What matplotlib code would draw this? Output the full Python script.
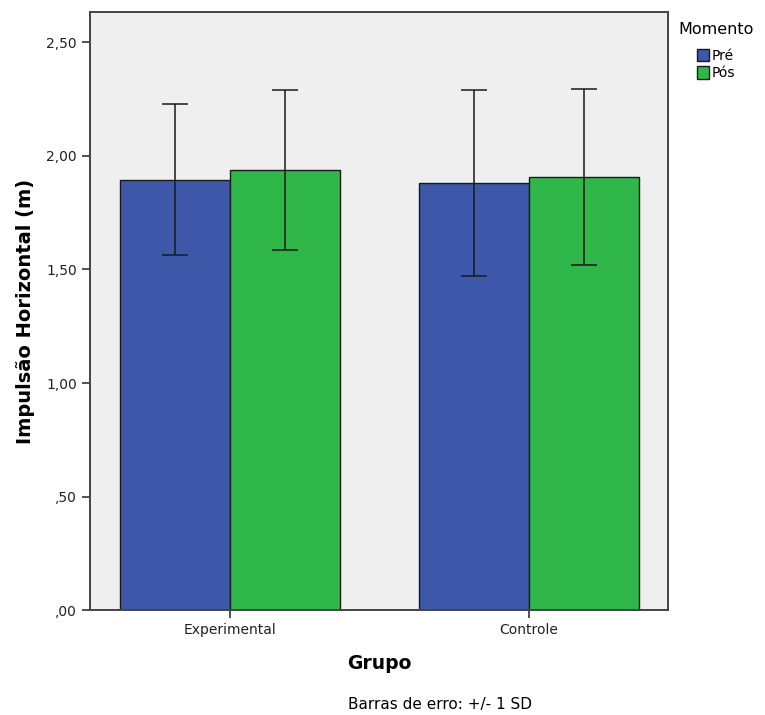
import numpy as np
import matplotlib
matplotlib.use("Agg")
import matplotlib.pyplot as plt
from matplotlib.ticker import FuncFormatter
from matplotlib.patches import Patch

# data
grupos = ["Experimental", "Controle"]
momentos = ["Pré", "Pós"]
medias_pre = [1.894, 1.879]
medias_pos = [1.937, 1.906]
sd_pre = [0.332, 0.410]
sd_pos = [0.352, 0.387]
y_ticks = [0.0, 0.5, 1.0, 1.5, 2.0, 2.5]

cor_pre = "#3d58a8"
cor_pos = "#2fb849"

plt.rcParams['font.family'] = ['DejaVu Sans']

fig = plt.figure(figsize=(7.65, 7.15), dpi=100)
ax = fig.add_axes([90 / 765, 1 - 610.3 / 715, (668 - 90) / 765, (610.3 - 12) / 715])
ax.set_facecolor("#efefef")

x = np.arange(len(grupos))
w = 0.368
err_kw = dict(ecolor="#1a1a1a", elinewidth=1.1, capsize=9.7, capthick=1.1)
ax.bar(x - w / 2, medias_pre, w, yerr=sd_pre, color=cor_pre, edgecolor="#1a1a1a",
       linewidth=1.0, error_kw=err_kw, zorder=2)
ax.bar(x + w / 2, medias_pos, w, yerr=sd_pos, color=cor_pos, edgecolor="#1a1a1a",
       linewidth=1.0, error_kw=err_kw, zorder=2)

ax.set_xlim(-0.469, 1.466)
ax.set_ylim(0, 2.633)
ax.set_yticks(y_ticks)

def fmt(v, pos):
    s = f"{v:.2f}".replace(".", ",")
    if s.startswith("0"):
        s = s[1:]
    return s

ax.yaxis.set_major_formatter(FuncFormatter(fmt))
ax.set_xticks(x)
ax.set_xticklabels(grupos)
ax.tick_params(axis="both", labelsize=10, length=6, width=1.2, color="#333333",
               labelcolor="#222222")
for s in ax.spines.values():
    s.set_color("#444444")
    s.set_linewidth(1.4)

ax.set_ylabel("Impulsão Horizontal (m)", fontsize=14, fontweight="bold", labelpad=8)
ax.set_xlabel("Grupo", fontsize=13.5, fontweight="bold", labelpad=12)

fig.text(440 / 765, 1 - 705 / 715, "Barras de erro: +/- 1 SD", fontsize=11,
         ha="center", va="center")

# legend: title and entries placed like the SPSS output
fig.text(678 / 765, 1 - 30 / 715, "Momento", fontsize=11.5, ha="left", va="center")
handles = [Patch(facecolor=cor_pre, edgecolor="#1a1a1a"),
           Patch(facecolor=cor_pos, edgecolor="#1a1a1a")]
leg = fig.legend(handles, momentos, loc="upper left", bbox_to_anchor=(694 / 765, 1 - 46 / 715),
                 frameon=False, fontsize=10, handlelength=0.9, handleheight=1.0,
                 handletextpad=0.2, labelspacing=0.25, borderpad=0.2, borderaxespad=0)

fig.savefig("out.png", dpi=100)
